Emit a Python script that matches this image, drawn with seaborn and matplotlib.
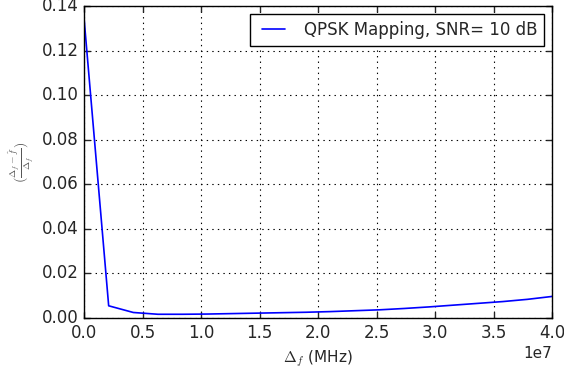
import numpy as np
import pandas as pd
import matplotlib
matplotlib.use("Agg")
import matplotlib.pyplot as plt
import seaborn as sns

# Frequency offset sweep (Hz) and normalised estimation error
delta_f = np.linspace(0, 4e7, 20)
rel_error = [0.1345, 0.0055, 0.0025, 0.0017, 0.0017, 0.0018, 0.0020, 0.0022,
             0.0024, 0.0026, 0.0029, 0.0033, 0.0037, 0.0043, 0.0050, 0.0058,
             0.0066, 0.0074, 0.0084, 0.0097]
series_label = "QPSK Mapping, SNR= 10 dB"

plt.style.use("classic")
sns.set_style("ticks", {"axes.grid": True})
plt.rcParams.update({
    "font.family": ["DejaVu Sans"],
    "font.size": 12,
    "grid.linestyle": ":",
    "grid.color": "black",
    "grid.linewidth": 0.8,
    "xtick.direction": "in",
    "ytick.direction": "in",
    "xtick.top": True,
    "ytick.right": True,
    "axes.edgecolor": "black",
    "axes.linewidth": 1.0,
    "figure.facecolor": "white",
    "savefig.facecolor": "white",
})

df = pd.DataFrame({"delta_f": delta_f, "err": rel_error, "series": series_label})

fig = plt.figure(figsize=(5.64, 3.72), dpi=100)
ax = fig.add_axes([0.149, 0.145, 0.830, 0.839])
sns.lineplot(data=df, x="delta_f", y="err", hue="series", palette=["blue"],
             ax=ax, linewidth=1.2)

ax.set_xlim(0, 4e7)
ax.set_ylim(0, 0.14)
ax.set_xticks(np.arange(0, 4.01e7, 0.5e7))
ax.set_yticks(np.arange(0, 0.1401, 0.02))
ax.grid(True, linestyle=":", color="black", linewidth=0.8)
ax.tick_params(axis="both", labelsize=12, length=4, width=1, direction="in",
               top=True, right=True)
ax.xaxis.get_offset_text().set_fontsize(11)
ax.set_xlabel(r"$\Delta_f$ (MHz)", fontsize=11)
ax.set_ylabel(r"$(\frac{\Delta_f - \hat{f}}{\Delta_f})$", fontsize=10, color="#555555")

leg = ax.legend(loc="upper right", fontsize=12, frameon=True, fancybox=False,
                edgecolor="black", handlelength=2.0)
leg.get_frame().set_linewidth(1.0)

fig.savefig("out.png", dpi=100)
